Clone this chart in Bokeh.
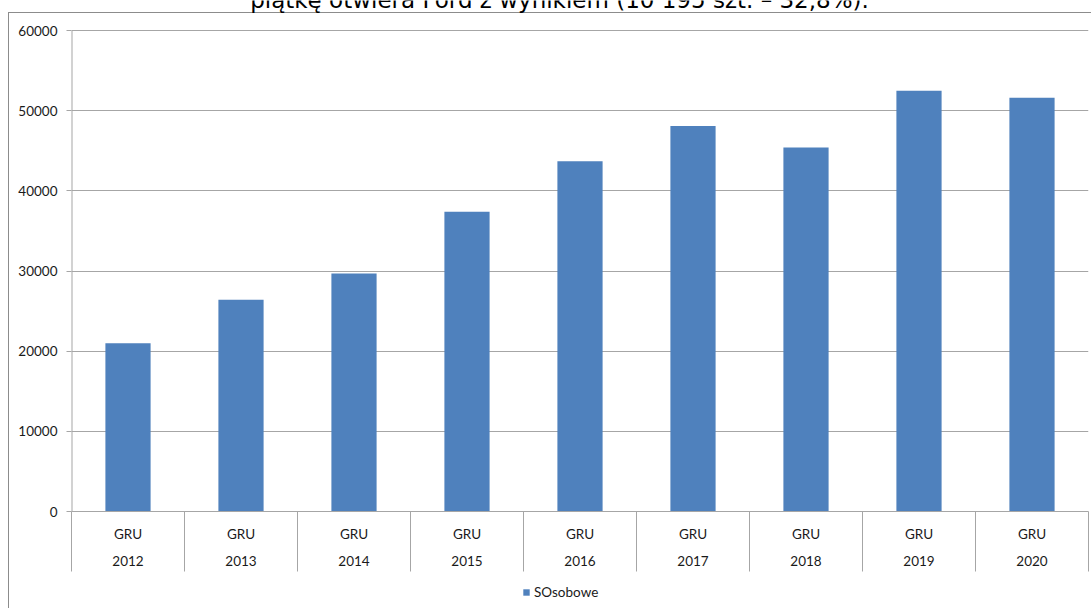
from bokeh.plotting import figure
from bokeh.models import (Range1d, FixedTicker, LinearAxis, Label,
                          Legend, LegendItem, ColumnDataSource)
from bokeh.layouts import column
from bokeh.embed import file_html
from bokeh.resources import INLINE

# ---- data ----
categories = ["2012", "2013", "2014", "2015", "2016", "2017", "2018", "2019", "2020"]
months = ["GRU", "GRU", "GRU", "GRU", "GRU", "GRU", "GRU", "GRU", "GRU"]
values = [21000, 26400, 29700, 37400, 43700, 48100, 45400, 52500, 51600]
series_name = "SOsobowe"
y_ticks = [0, 10000, 20000, 30000, 40000, 50000, 60000]
title_text = "piątkę otwiera Ford z wynikiem (10 195 szt. – 32,8%)."

FONT = "Lato"
FS = "13.5px"
TXT = "#1a1a1a"
GRAY = "#a6a6a6"
FRAME = "#8c8c8c"
BAR = "#4f81bd"

n = len(categories)
centers = [i + 0.5 for i in range(n)]
bounds = [float(i) for i in range(n + 1)]

# frame reaches the top of the canvas so the clipped heading line fits inside it;
# the value axis spans 0..60000 over its lower 481 px
FRAME_H, AXIS_H = 511, 481
y_top = y_ticks[-1] * FRAME_H / AXIS_H

p = figure(width=1091, height=575, output_backend="svg", toolbar_location=None,
           x_range=Range1d(0, n), y_range=Range1d(0, y_top),
           min_border_left=71, min_border_right=3, min_border_top=0, min_border_bottom=64)
p.outline_line_color = None
p.background_fill_alpha = 0
p.border_fill_alpha = 0
p.styles = {
    "background-color": "white",
    "background-image": f"linear-gradient({FRAME},{FRAME}), linear-gradient({FRAME},{FRAME})",
    "background-size": "1px 100%, 1090px 1px",
    "background-position": "8px 12px, 8px 12px",
    "background-repeat": "no-repeat",
}
p.xgrid.visible = False

# y axis
yax = p.yaxis[0]
yax.ticker = FixedTicker(ticks=y_ticks)
yax.major_tick_out = 5
yax.major_tick_in = 0
yax.minor_tick_line_color = None
yax.major_tick_line_color = GRAY
yax.axis_line_color = None
yax.major_label_standoff = 9
yax.major_label_text_font = FONT
yax.major_label_text_font_size = FS
yax.major_label_text_color = TXT
p.ygrid.grid_line_color = GRAY
p.ygrid.ticker = FixedTicker(ticks=y_ticks)
# value axis line from 0 to the top tick
p.segment(x0=[0], y0=[y_ticks[0]], x1=[0], y1=[y_ticks[-1]], line_color=GRAY, line_width=2)

# x axis: month row
xax = p.xaxis[0]
xax.ticker = FixedTicker(ticks=centers)
xax.major_label_overrides = {c: m for c, m in zip(centers, months)}
xax.major_tick_line_color = None
xax.minor_tick_line_color = None
xax.axis_line_color = GRAY
xax.major_label_standoff = 8
xax.major_label_text_font = FONT
xax.major_label_text_font_size = FS
xax.major_label_text_color = TXT

# x axis: year row
xax2 = LinearAxis(ticker=FixedTicker(ticks=centers),
                  major_label_overrides={c: y for c, y in zip(centers, categories)},
                  axis_line_color=None, major_tick_line_color=None,
                  minor_tick_line_color=None, major_label_standoff=5,
                  major_label_text_font=FONT, major_label_text_font_size=FS,
                  major_label_text_color=TXT)
p.add_layout(xax2, "below")

# separator axis: category boundaries drawn as minor ticks
xax3 = LinearAxis(ticker=FixedTicker(ticks=[], minor_ticks=bounds),
                  axis_line_color=None, major_tick_line_color=None,
                  minor_tick_line_color=GRAY, minor_tick_in=57, minor_tick_out=3,
                  major_label_text_font_size="0px", major_label_standoff=0)
p.add_layout(xax3, "below")

src = ColumnDataSource(dict(x=centers, top=values, year=categories))
p.vbar(x="x", top="top", bottom=0, width=0.4, source=src,
       fill_color=BAR, line_color=None)

title = Label(x=488, y=FRAME_H + 1, x_units="screen", y_units="screen", text=title_text,
              text_align="center", text_baseline="alphabetic",
              text_font="DejaVu Sans", text_font_size="23px", text_color="#000000")
p.add_layout(title)

# ---- legend strip ----
q = figure(width=1091, height=33, output_backend="svg", toolbar_location=None,
           x_range=Range1d(0, 1), y_range=Range1d(0, 1),
           min_border_left=0, min_border_right=0, min_border_top=0, min_border_bottom=0,
           x_axis_location=None, y_axis_location=None)
q.grid.visible = False
q.outline_line_color = None
q.background_fill_alpha = 0
q.border_fill_alpha = 0
q.styles = {
    "background-color": "white",
    "background-image": f"linear-gradient({FRAME},{FRAME})",
    "background-size": "1px 100%",
    "background-position": "8px 0px",
    "background-repeat": "no-repeat",
}
# legend key glyph (zero-height bar, only its style is used by the legend)
rl = q.vbar(x=[0.5], top=[0], bottom=[0], width=0.01, fill_color=BAR, line_color=None)
legend = Legend(items=[LegendItem(label=series_name, renderers=[rl])],
                location=(451, 8), orientation="horizontal",
                padding=0, margin=0, spacing=0, glyph_width=8, glyph_height=8,
                label_height=8, label_standoff=4,
                border_line_color=None, background_fill_alpha=0,
                label_text_font=FONT, label_text_font_size=FS, label_text_color=TXT)
q.add_layout(legend, "center")

layout = column(p, q, spacing=0)
open("out.html", "w").write(file_html(layout, INLINE))
